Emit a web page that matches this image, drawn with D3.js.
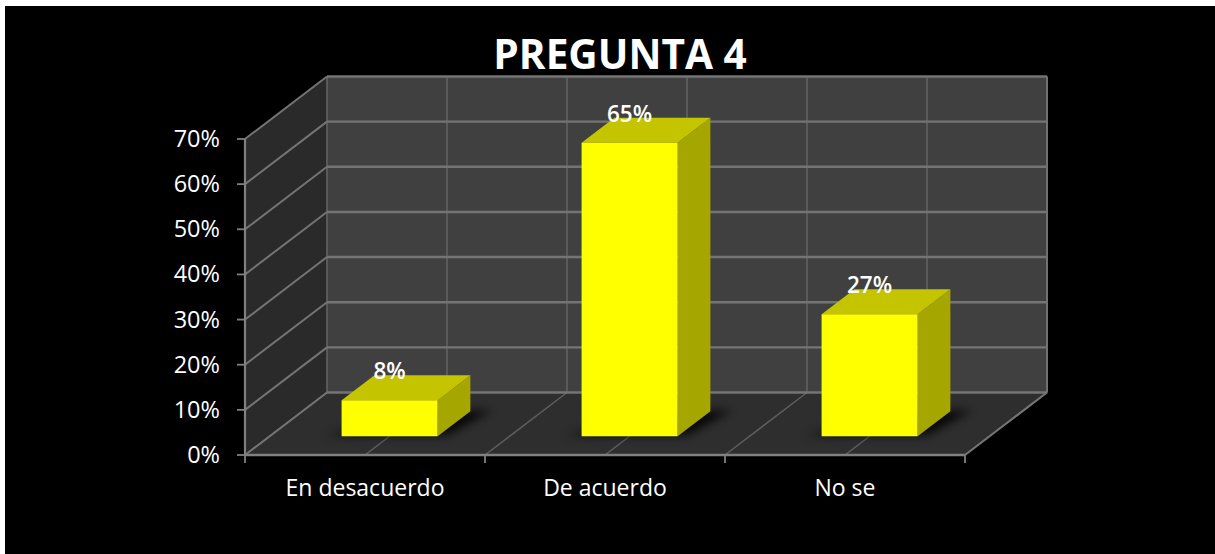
<!DOCTYPE html>
<html>
<head>
<meta charset="utf-8">
<script src="https://cdn.jsdelivr.net/npm/d3@7/dist/d3.min.js"></script>
<style>
html,body{margin:0;padding:0;background:#fff}
svg{display:block}
text{font-family:"Open Sans",sans-serif;fill:#fff}
</style>
</head>
<body>
<svg id="chart" width="1215" height="554"></svg>
<script>
const categories = ["En desacuerdo", "De acuerdo", "No se"];
const values = [8, 65, 27];
const yTicks = [0, 10, 20, 30, 40, 50, 60, 70];
const titleText = "PREGUNTA 4";

const svg = d3.select("#chart");

// Plot box: front-bottom-left corner, plus the oblique shift toward the back wall
const origin = {x: 245, y: 455};
const shift = {x: 82, y: 62.5};

const x = d3.scaleBand().domain(categories).range([0, 720]).paddingInner(0).paddingOuter(0);
const y = d3.scaleLinear().domain([0, 70]).range([0, 316]);
const z = d3.scaleLinear().domain([0, 1]).range([0, 1]);

// Oblique projection: horizontal px, height px, depth fraction -> screen
function project(px, h, d) {
  return [origin.x + px + shift.x * z(d), origin.y - h - shift.y * z(d)];
}
const poly = pts => "M" + pts.map(p => p.join(",")).join("L") + "Z";
const seg = (g, a, b, stroke, width) => g.append("line")
  .attr("x1", a[0]).attr("y1", a[1]).attr("x2", b[0]).attr("y2", b[1])
  .attr("stroke", stroke).attr("stroke-width", width);

const defs = svg.append("defs");
defs.append("filter").attr("id", "soft")
  .attr("x", "-30%").attr("y", "-60%").attr("width", "160%").attr("height", "220%")
  .append("feGaussianBlur").attr("stdDeviation", 5);

// Chart background
svg.append("rect").attr("x", 5).attr("y", 6).attr("width", 1210).attr("height", 548).attr("fill", "#000");

const wallH = y(70), span = x.range()[1];

// Walls and floor
const walls = svg.append("g");
walls.append("path").attr("fill", "#404040")
  .attr("d", poly([project(0, 0, 1), project(span, 0, 1), project(span, wallH, 1), project(0, wallH, 1)]));
walls.append("path").attr("fill", "#2a2a2a")
  .attr("d", poly([project(0, 0, 0), project(0, 0, 1), project(0, wallH, 1), project(0, wallH, 0)]));
walls.append("path").attr("fill", "#2e2e2e")
  .attr("d", poly([project(0, 0, 0), project(span, 0, 0), project(span, 0, 1), project(0, 0, 1)]));

// Vertical and floor gridlines at every half category
const grid = svg.append("g");
const halfSteps = d3.range(0, categories.length * 2 + 1).map(i => i * x.bandwidth() / 2);
halfSteps.forEach(px => {
  seg(grid, project(px, 0, 1), project(px, wallH, 1), "#5e5e5e", 1.8);
  seg(grid, project(px, 0, 0), project(px, 0, 1), "#5e5e5e", 1.5);
});

// Horizontal gridlines running along the side wall and the back wall
yTicks.forEach(t => {
  const h = y(t);
  seg(grid, project(0, h, 0), project(0, h, 1), "#747474", 2);
  seg(grid, project(0, h, 1), project(span, h, 1), "#747474", 2.4);
});
seg(grid, project(0, 0, 0), project(0, wallH, 0), "#808080", 2.2);
seg(grid, project(0, 0, 0), project(span, 0, 0), "#808080", 2.4);
seg(grid, project(span, 0, 0), project(span, 0, 1), "#747474", 2);
seg(grid, project(span, 0, 1), project(span, wallH, 1), "#747474", 1.8);

// Axis ticks and labels
const axes = svg.append("g");
yTicks.forEach(t => {
  const [px, py] = project(0, y(t), 0);
  seg(axes, [px - 8, py], [px, py], "#808080", 1.8);
  axes.append("text").attr("x", px - 25).attr("y", py - 1)
    .attr("text-anchor", "end").attr("dominant-baseline", "central")
    .attr("font-size", 23.5).text(t + "%");
});
[0, 1, 2, 3].forEach(i => {
  const [px, py] = project(i * x.bandwidth(), 0, 0);
  seg(axes, [px, py], [px, py + 8], "#808080", 1.8);
});
categories.forEach(c => {
  axes.append("text").attr("x", origin.x + x(c) + x.bandwidth() / 2).attr("y", 496)
    .attr("text-anchor", "middle").attr("font-size", 23).text(c);
});

// 3D bars sit between two depth fractions of the floor
const barFrac = 0.4, zFront = 0.3, zBack = 0.7;
const bars = svg.append("g");
const barW = x.bandwidth() * barFrac;
categories.forEach((c, i) => {
  const x0 = x(c) + (x.bandwidth() - barW) / 2, x1 = x0 + barW, h = y(values[i]);

  bars.append("path").attr("fill", "#050505").attr("opacity", 0.85).attr("filter", "url(#soft)")
    .attr("d", poly([project(x0 - 18, 0, zFront + 0.02), project(x1 + 8, 0, zFront + 0.02),
                     project(x1 + 20, 0, zBack + 0.02), project(x1 - 10, 0, zBack), project(x0, 0, zFront + 0.1)]));

  bars.append("path").attr("fill", "#a6a600")
    .attr("d", poly([project(x1, 0, zFront), project(x1, 0, zBack), project(x1, h, zBack), project(x1, h, zFront)]));
  bars.append("path").attr("fill", "#c4c400")
    .attr("d", poly([project(x0, h, zFront), project(x1, h, zFront), project(x1, h, zBack), project(x0, h, zBack)]));
  bars.append("path").attr("fill", "#ffff00")
    .attr("d", poly([project(x0, 0, zFront), project(x1, 0, zFront), project(x1, h, zFront), project(x0, h, zFront)]));
});

// Value labels straddle the top face of each bar
const labels = svg.append("g");
categories.forEach((c, i) => {
  const p = project(x(c) + x.bandwidth() / 2, y(values[i]), zFront);
  labels.append("text").attr("x", p[0]).attr("y", p[1] - 21)
    .attr("text-anchor", "middle").attr("font-size", 22.5).attr("font-weight", 600)
    .text(values[i] + "%");
});

// Title
svg.append("text").attr("x", 620).attr("y", 69).attr("text-anchor", "middle")
  .attr("font-size", 40.6).attr("font-weight", 700).text(titleText);
</script>
</body>
</html>
